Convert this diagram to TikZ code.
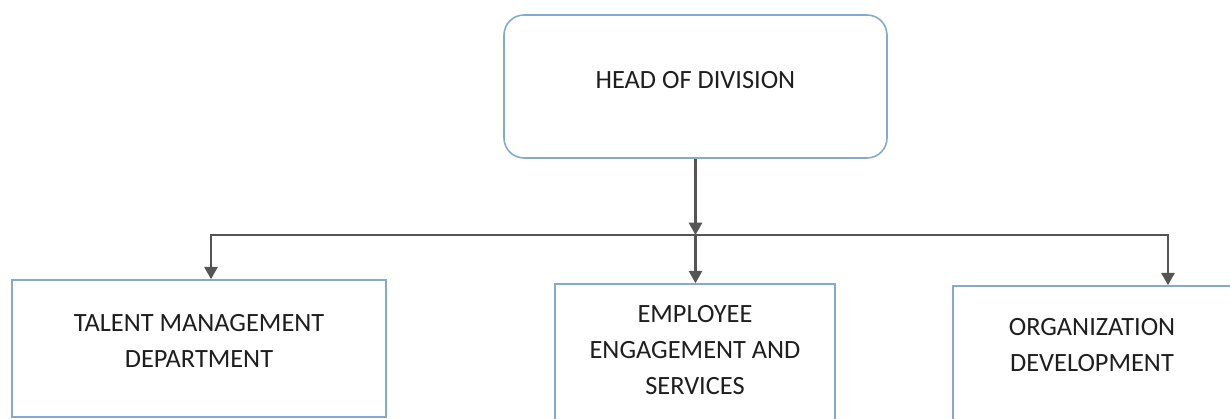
\documentclass[tikz,border=0pt]{standalone}
\usepackage{fontspec}
\setmainfont{Carlito}
\usetikzlibrary{arrows.meta}
\usetikzlibrary{fit}
\definecolor{boxblue}{RGB}{130,170,210}
\definecolor{linegray}{RGB}{85,85,85}
\definecolor{textgray}{RGB}{30,30,30}

\begin{document}
\begin{tikzpicture}[x = 0.02cm, y = -0.02cm,
    box/.style = {draw = boxblue, line width = 0.9pt, inner sep = 0pt},
    caption/.style = {align = center, text = textgray, font = \fontsize{15}{20.5}\selectfont},
    link/.style = {linegray, line width = 1.2pt, -{Triangle[width = 7.5pt, length = 7pt]}}]

    \useasboundingbox (0,0) rectangle (1230,419);

    \node[box, rounded corners = 0.4cm, fit = {(504,15) (887,158)}] (head) {};
    \node[caption] (headtext) at (695.5,80) {HEAD OF DIVISION};

    \node[box, fit = {(12,280) (386,417)}] (talent) {};
    \node[caption] (talenttext) at (199,341) {TALENT MANAGEMENT\\DEPARTMENT};

    \node[box, fit = {(555,284) (835,430)}] (engage) {};
    \node[caption] (engagetext) at (695,350) {EMPLOYEE\\ENGAGEMENT AND\\SERVICES};

    \node[box, fit = {(953,286) (1231,430)}] (orgdev) {};
    \node[caption] (orgdevtext) at (1092,345.5) {ORGANIZATION\\DEVELOPMENT};

    \coordinate (bus) at (695.5,235);
    \draw[link] (head) -- (bus);
    \draw[link] (bus) -- (bus |- engage.north);
    \draw[link] (bus) -| ([xshift = 0.24cm]talent.north);
    \draw[link] (bus) -| ([xshift = 1.52cm]orgdev.north);
\end{tikzpicture}
\end{document}
